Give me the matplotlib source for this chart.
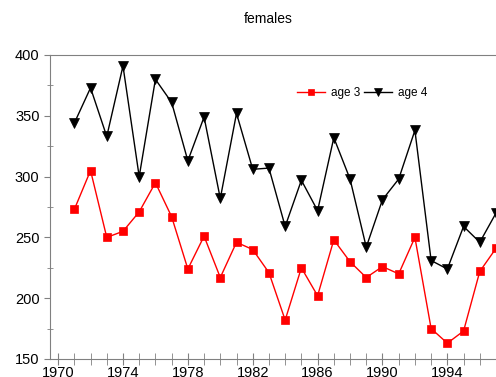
import matplotlib
matplotlib.use("Agg")
import matplotlib.pyplot as plt
from matplotlib.ticker import MultipleLocator

years = list(range(1971, 1998))
age3 = [273, 305, 250, 255, 271, 295, 267, 224, 251, 217, 246, 240, 221, 182, 225,
        202, 248, 230, 217, 226, 220, 250, 175, 163, 173, 222, 241]
age4 = [344, 373, 333, 391, 300, 380, 361, 313, 349, 282, 352, 306, 307, 259, 297,
        272, 332, 298, 242, 281, 298, 338, 231, 224, 259, 246, 270]
xtick_labels = [1970, 1974, 1978, 1982, 1986, 1990, 1994]

plt.rcParams['font.family'] = ['Liberation Sans', 'DejaVu Sans']

W, H = 496, 377
fig = plt.figure(figsize=(W / 100, H / 100), dpi=100)
ax = fig.add_axes([50 / W, (H - 359) / H, (496 - 50) / W, (359 - 55) / H])

ax.plot(years, age3, color='#ff0000', lw=1, marker='s', ms=6, mew=0.5, mec='#ff0000',
        mfc='#ff0000', label='age 3')
ax.plot(years, age4, color='black', lw=1, marker='v', ms=7, mew=0.5, mec='black',
        mfc='black', label='age 4')

ax.set_xlim(1969.5, 1997.0)
ax.set_ylim(150, 400)
ax.set_xticks(xtick_labels)
ax.xaxis.set_minor_locator(MultipleLocator(1))
ax.yaxis.set_major_locator(MultipleLocator(50))
ax.yaxis.set_minor_locator(MultipleLocator(25))

gray = '#808080'
for s in ['left', 'bottom', 'top']:
    ax.spines[s].set_color(gray)
ax.spines['right'].set_visible(False)
ax.tick_params(axis='x', which='both', direction='inout', colors=gray, labelcolor='black',
               labelsize=10.5, pad=1)
ax.tick_params(axis='x', which='major', length=8)
ax.tick_params(axis='x', which='minor', length=8)
ax.tick_params(axis='y', which='major', direction='out', length=4, colors=gray,
               labelcolor='black', labelsize=10.5)
ax.tick_params(axis='y', which='minor', direction='inout', length=5, colors=gray)

ax.set_title('females', fontsize=10, pad=23, x=(268 - 50) / (496 - 50))

leg = ax.legend(loc='center', bbox_to_anchor=((362 - 50) / (496 - 50), (359 - 93) / (359 - 55)),
                ncol=2, frameon=False, fontsize=8.5, handlelength=2.4, columnspacing=0.3,
                handletextpad=0.5, markerscale=0.8)

fig.savefig('out.png', dpi=100)
